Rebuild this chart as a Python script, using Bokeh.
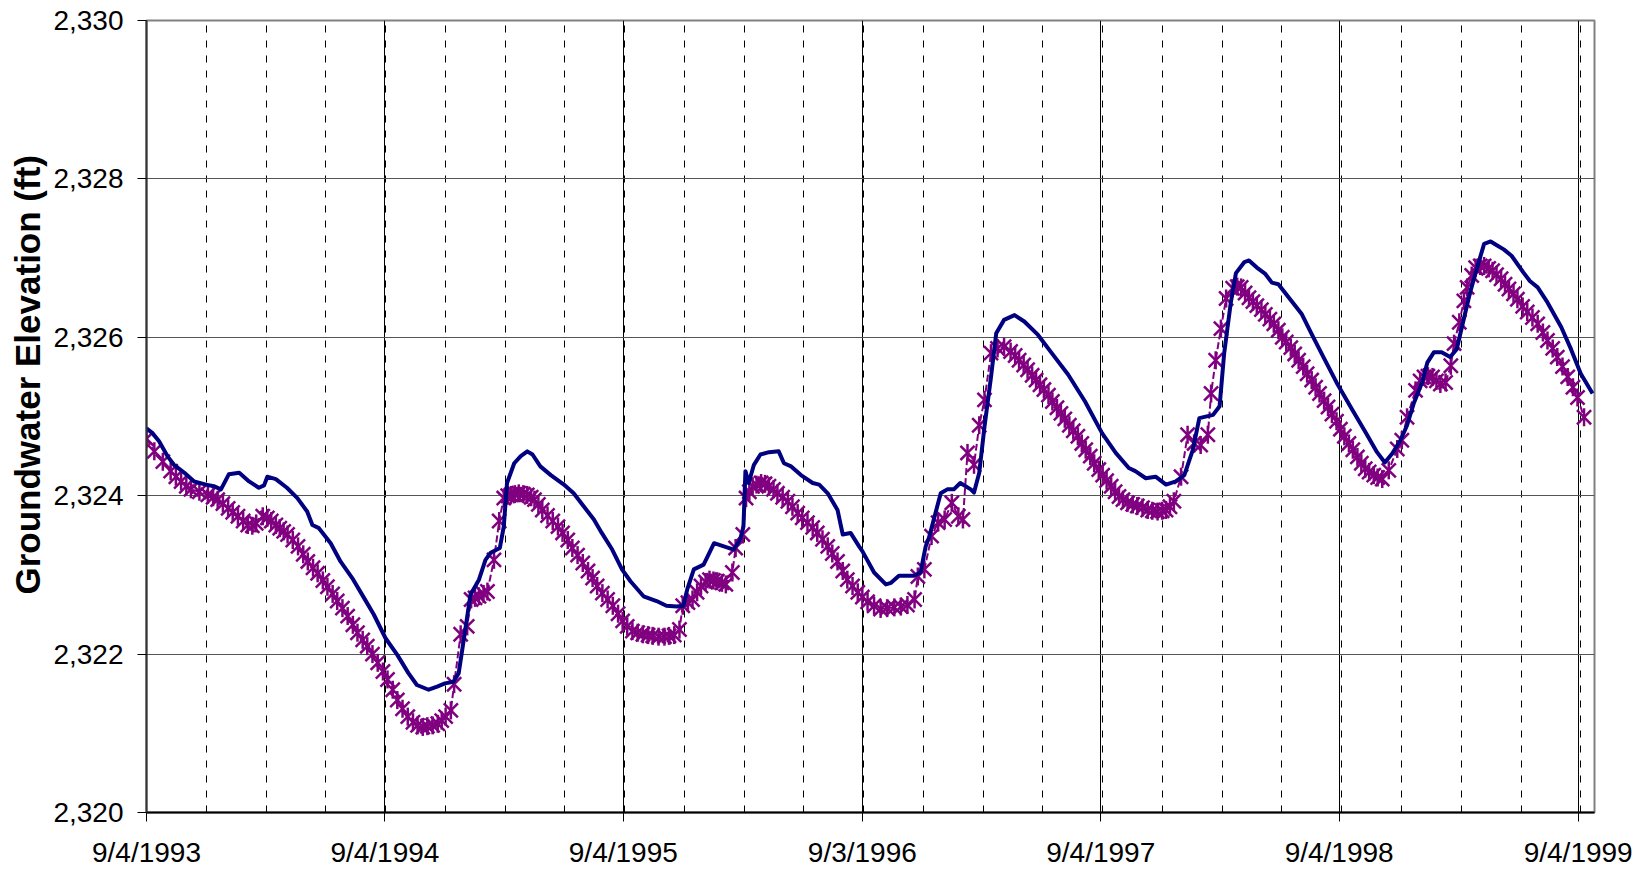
import math
from bokeh.plotting import figure
from bokeh.models import FixedTicker, NumeralTickFormatter, Range1d, Title
from bokeh.embed import file_html
from bokeh.resources import INLINE

# ---- axis ticks (days since 9/4/1993) ----
tick_days = [0, 365, 730, 1096, 1461, 1826, 2192]
tick_labels = ["9/4/1993", "9/4/1994", "9/4/1995", "9/3/1996",
               "9/4/1997", "9/4/1998", "9/4/1999"]
minor_days = [round(91.5 * k, 1) for k in range(1, 25)]
y_ticks = [2320, 2322, 2324, 2326, 2328, 2330]

# ---- series 1: solid navy line ----
sim_day = [0, 9, 19, 32, 42, 58, 73, 91, 103, 114, 126, 142, 157, 172, 180, 185,
           198, 215, 231, 246, 254, 264, 282, 297, 315, 333, 348, 366, 384, 401,
           414, 432, 445, 457, 470, 478, 485, 496, 509, 519, 527, 541, 547, 552,
           563, 573, 583, 591, 603, 619, 639, 654, 669, 685, 697, 713, 728, 741,
           761, 781, 796, 812, 822, 828, 838, 853, 869, 884, 899, 909, 914, 917,
           922, 930, 940, 953, 968, 976, 987, 1002, 1020, 1030, 1043, 1058, 1066,
           1078, 1091, 1096, 1114, 1132, 1140, 1152, 1175, 1185, 1193, 1198, 1216,
           1226, 1236, 1246, 1262, 1267, 1275, 1283, 1293, 1301, 1313, 1329, 1344,
           1365, 1386, 1411, 1437, 1463, 1484, 1504, 1514, 1530, 1545, 1561, 1576,
           1589, 1602, 1612, 1633, 1643, 1650, 1660, 1668, 1681, 1688, 1700, 1713,
           1723, 1733, 1751, 1769, 1784, 1802, 1822, 1845, 1868, 1884, 1896, 1907,
           1920, 1930, 1940, 1953, 1961, 1971, 1983, 1996, 2006, 2016, 2026, 2038,
           2048, 2058, 2068, 2078, 2090, 2108, 2118, 2130, 2145, 2166, 2181, 2196,
           2214]
sim_elev = [2324.85, 2324.79, 2324.69, 2324.50, 2324.39, 2324.29, 2324.18, 2324.14,
            2324.12, 2324.08, 2324.27, 2324.29, 2324.18, 2324.10, 2324.13, 2324.24,
            2324.21, 2324.10, 2323.97, 2323.80, 2323.63, 2323.59, 2323.40, 2323.17,
            2322.96, 2322.71, 2322.50, 2322.20, 2321.99, 2321.76, 2321.61, 2321.55,
            2321.59, 2321.63, 2321.65, 2321.76, 2322.14, 2322.75, 2322.94, 2323.19,
            2323.28, 2323.34, 2323.61, 2324.16, 2324.41, 2324.50, 2324.56, 2324.52,
            2324.37, 2324.26, 2324.14, 2324.03, 2323.87, 2323.70, 2323.53, 2323.32,
            2323.07, 2322.92, 2322.73, 2322.67, 2322.61, 2322.60, 2322.61, 2322.82,
            2323.07, 2323.13, 2323.40, 2323.36, 2323.32, 2323.45, 2323.61, 2324.31,
            2324.16, 2324.39, 2324.52, 2324.55, 2324.56, 2324.41, 2324.37, 2324.26,
            2324.16, 2324.14, 2324.03, 2323.82, 2323.51, 2323.53, 2323.36, 2323.30,
            2323.03, 2322.88, 2322.90, 2322.99, 2322.99, 2323.03, 2323.36, 2323.47,
            2324.03, 2324.08, 2324.08, 2324.16, 2324.08, 2324.04, 2324.29, 2324.87,
            2325.50, 2326.05, 2326.22, 2326.28, 2326.20, 2326.03, 2325.80, 2325.53,
            2325.19, 2324.79, 2324.54, 2324.35, 2324.31, 2324.22, 2324.24, 2324.14,
            2324.18, 2324.26, 2324.58, 2324.98, 2325.02, 2325.13, 2325.80, 2326.43,
            2326.81, 2326.95, 2326.97, 2326.88, 2326.80, 2326.69, 2326.67, 2326.48,
            2326.29, 2326.04, 2325.75, 2325.43, 2325.10, 2324.78, 2324.55, 2324.42,
            2324.53, 2324.70, 2324.89, 2325.16, 2325.43, 2325.68, 2325.81, 2325.81,
            2325.75, 2325.85, 2326.20, 2326.55, 2326.90, 2327.18, 2327.21, 2327.16,
            2327.11, 2327.03, 2326.82, 2326.71, 2326.63, 2326.44, 2326.13, 2325.85,
            2325.54, 2325.29]

# ---- series 2: purple asterisks with dashed line ----
obs_day = [0, 12, 25, 37, 45, 53, 61, 68, 81, 94, 102, 109, 117, 125, 132, 140, 148,
           155, 162, 168, 178, 185, 191, 198, 204, 210, 216, 224, 232, 240, 247, 255,
           262, 270, 277, 285, 292, 300, 308, 316, 323, 331, 338, 346, 354, 362, 369,
           377, 384, 392, 400, 408, 415, 423, 430, 438, 446, 452, 458, 466, 471, 481,
           491, 497, 503, 509, 516, 522, 532, 540, 547, 553, 558, 564, 570, 577, 583,
           589, 594, 600, 606, 614, 622, 630, 637, 645, 652, 660, 668, 676, 683, 690,
           698, 706, 714, 722, 729, 736, 744, 752, 760, 768, 775, 784, 793, 800, 808,
           816, 821, 829, 836, 843, 849, 856, 862, 868, 874, 881, 887, 897, 902, 913,
           918, 923, 928, 934, 941, 947, 953, 960, 966, 974, 982, 989, 997, 1004, 1012,
           1020, 1027, 1035, 1043, 1050, 1058, 1066, 1073, 1081, 1089, 1096, 1104,
           1114, 1124, 1134, 1145, 1155, 1165, 1176, 1181, 1191, 1202, 1212, 1222,
           1233, 1243, 1250, 1257, 1267, 1275, 1283, 1293, 1303, 1313, 1323, 1330,
           1336, 1343, 1349, 1356, 1362, 1368, 1374, 1381, 1387, 1394, 1400, 1406,
           1413, 1419, 1426, 1432, 1438, 1445, 1451, 1458, 1464, 1470, 1477, 1483,
           1489, 1495, 1502, 1510, 1517, 1525, 1533, 1540, 1548, 1555, 1561, 1567,
           1573, 1584, 1594, 1604, 1614, 1625, 1630, 1637, 1645, 1653, 1663, 1670,
           1676, 1682, 1688, 1694, 1700, 1707, 1713, 1720, 1726, 1733, 1739, 1745,
           1752, 1758, 1764, 1771, 1777, 1784, 1790, 1796, 1803, 1809, 1815, 1822,
           1828, 1834, 1841, 1847, 1854, 1860, 1866, 1872, 1879, 1885, 1892, 1902,
           1915, 1922, 1930, 1943, 1950, 1956, 1962, 1969, 1975, 1981, 1989, 1997,
           2002, 2010, 2017, 2022, 2029, 2035, 2042, 2048, 2055, 2061, 2067, 2074,
           2080, 2086, 2093, 2099, 2107, 2114, 2122, 2130, 2138, 2145, 2153, 2160,
           2168, 2176, 2184, 2191, 2201]
obs_elev = [2324.72, 2324.56, 2324.43, 2324.31, 2324.24, 2324.18, 2324.12, 2324.08,
            2324.05, 2324.01, 2323.98, 2323.95, 2323.90, 2323.84, 2323.79, 2323.74,
            2323.68, 2323.63, 2323.62, 2323.65, 2323.74, 2323.72, 2323.68, 2323.63,
            2323.59, 2323.55, 2323.51, 2323.44, 2323.36, 2323.26, 2323.17, 2323.09,
            2323.02, 2322.93, 2322.85, 2322.76, 2322.67, 2322.58, 2322.48, 2322.37,
            2322.27, 2322.18, 2322.10, 2322.00, 2321.89, 2321.78, 2321.68, 2321.55,
            2321.42, 2321.31, 2321.21, 2321.14, 2321.10, 2321.08, 2321.09, 2321.10,
            2321.12, 2321.16, 2321.21, 2321.29, 2321.62, 2322.25, 2322.35, 2322.69,
            2322.71, 2322.73, 2322.76, 2322.79, 2323.19, 2323.68, 2323.97, 2324.00,
            2324.01, 2324.02, 2324.03, 2324.02, 2324.01, 2323.98, 2323.95, 2323.89,
            2323.82, 2323.75, 2323.68, 2323.61, 2323.53, 2323.44, 2323.34, 2323.25,
            2323.15, 2323.05, 2322.96, 2322.86, 2322.77, 2322.69, 2322.61, 2322.51,
            2322.42, 2322.35, 2322.29, 2322.27, 2322.25, 2322.24, 2322.23, 2322.22,
            2322.22, 2322.23, 2322.24, 2322.31, 2322.61, 2322.65, 2322.69, 2322.78,
            2322.86, 2322.91, 2322.94, 2322.93, 2322.92, 2322.90, 2322.88, 2323.03,
            2323.34, 2323.51, 2323.97, 2324.05, 2324.12, 2324.14, 2324.16, 2324.15,
            2324.12, 2324.08, 2324.03, 2323.98, 2323.93, 2323.86, 2323.78, 2323.72,
            2323.66, 2323.60, 2323.53, 2323.45, 2323.36, 2323.27, 2323.17, 2323.05,
            2322.94, 2322.86, 2322.78, 2322.72, 2322.66, 2322.61, 2322.57, 2322.58,
            2322.59, 2322.60, 2322.62, 2322.69, 2322.98, 2323.07, 2323.49, 2323.66,
            2323.70, 2323.91, 2323.74, 2323.70, 2324.54, 2324.39, 2324.89, 2325.21,
            2325.80, 2325.86, 2325.88, 2325.82, 2325.77, 2325.71, 2325.65, 2325.59,
            2325.52, 2325.46, 2325.40, 2325.34, 2325.27, 2325.19, 2325.11, 2325.04,
            2324.97, 2324.89, 2324.82, 2324.75, 2324.66, 2324.58, 2324.50, 2324.41,
            2324.33, 2324.26, 2324.19, 2324.12, 2324.05, 2323.99, 2323.95, 2323.91,
            2323.89, 2323.87, 2323.85, 2323.82, 2323.81, 2323.80, 2323.81, 2323.82,
            2323.86, 2323.93, 2324.24, 2324.77, 2324.66, 2324.64, 2324.77, 2325.29,
            2325.71, 2326.11, 2326.49, 2326.62, 2326.64, 2326.63, 2326.56, 2326.50,
            2326.45, 2326.40, 2326.35, 2326.29, 2326.23, 2326.17, 2326.09, 2326.00,
            2325.94, 2325.87, 2325.79, 2325.71, 2325.63, 2325.54, 2325.46, 2325.37,
            2325.29, 2325.20, 2325.12, 2325.03, 2324.94, 2324.84, 2324.75, 2324.66,
            2324.58, 2324.49, 2324.41, 2324.34, 2324.30, 2324.26, 2324.23, 2324.21,
            2324.32, 2324.59, 2324.70, 2324.99, 2325.33, 2325.45, 2325.50, 2325.51,
            2325.50, 2325.45, 2325.41, 2325.43, 2325.64, 2325.92, 2326.19, 2326.46,
            2326.63, 2326.78, 2326.88, 2326.90, 2326.90, 2326.87, 2326.84, 2326.79,
            2326.74, 2326.67, 2326.61, 2326.55, 2326.48, 2326.39, 2326.32, 2326.25,
            2326.17, 2326.06, 2325.96, 2325.86, 2325.75, 2325.63, 2325.50, 2325.37,
            2325.24, 2324.99]

FONT = "Liberation Sans"

p = figure(width=1636, height=870, output_backend="svg", toolbar_location=None,
           x_range=Range1d(0, 2217), y_range=Range1d(2320, 2330),
           min_border_left=146, min_border_right=42, min_border_top=20,
           min_border_bottom=56)
p.background_fill_color = "white"
p.border_fill_color = "white"
p.outline_line_color = "#808080"
p.outline_line_width = 2

# grids
p.ygrid.ticker = FixedTicker(ticks=y_ticks)
p.ygrid.grid_line_color = "#555555"
p.ygrid.grid_line_width = 1
p.xgrid.ticker = FixedTicker(ticks=tick_days, minor_ticks=minor_days)
p.xgrid.grid_line_color = "black"
p.xgrid.grid_line_width = 1
p.xgrid.minor_grid_line_color = "black"
p.xgrid.minor_grid_line_width = 1
p.xgrid.minor_grid_line_dash = "7 8"

# x axis
p.xaxis.ticker = FixedTicker(ticks=tick_days)
p.xaxis.major_label_overrides = dict(zip(tick_days, tick_labels))
p.xaxis.major_tick_out = 9
p.xaxis.major_tick_in = 0
p.xaxis.minor_tick_out = 0
p.xaxis.minor_tick_in = 0
p.xaxis.major_label_standoff = 15
p.xaxis.major_label_text_font = FONT
p.xaxis.major_label_text_font_size = "28px"
p.xaxis.major_label_text_color = "black"
p.xaxis.axis_line_color = "black"
p.xaxis.axis_line_width = 2
p.xaxis.major_tick_line_color = "black"
p.xaxis.major_tick_line_width = 1

# y axis
p.yaxis.ticker = FixedTicker(ticks=y_ticks)
p.yaxis.formatter = NumeralTickFormatter(format="0,0")
p.yaxis.major_tick_out = 9
p.yaxis.major_tick_in = 0
p.yaxis.minor_tick_out = 0
p.yaxis.minor_tick_in = 0
p.yaxis.major_label_standoff = 14
p.yaxis.major_label_text_font = FONT
p.yaxis.major_label_text_font_size = "28px"
p.yaxis.major_label_text_color = "black"
p.yaxis.axis_line_color = "#333333"
p.yaxis.axis_line_width = 2
p.yaxis.major_tick_line_color = "black"

# y-axis title as a left-side title, placed a bit above the frame centre
p.add_layout(Title(text="Groundwater Elevation (ft)", align="left", offset=218,
                   standoff=7, text_font=FONT, text_font_style="bold",
                   text_font_size="35px", text_color="black"), "left")

# series
p.line(obs_day, obs_elev, line_color="#800080", line_width=2, line_dash="7 3")
p.scatter(obs_day, obs_elev, marker="x", size=20, line_color="#800080", line_width=2.5)
p.scatter(obs_day, obs_elev, marker="dash", angle=math.pi / 2, size=18,
          line_color="#800080", line_width=2.5)
p.line(sim_day, sim_elev, line_color="#000080", line_width=4, line_join="round")

open("out.html", "w").write(file_html(p, INLINE))
